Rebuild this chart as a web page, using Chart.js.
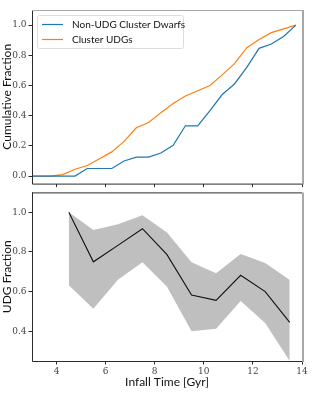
<!DOCTYPE html>
<html lang="en">
<head>
<meta charset="UTF-8">
<title>UDG infall time</title>
<script src="https://cdn.jsdelivr.net/npm/chart.js"></script>
<style>
  html, body { margin: 0; padding: 0; background: #fff; }
  #wrap { position: relative; width: 314px; height: 396px; }
  canvas { position: absolute; left: 0; }
  #topChart { top: 0; }
  #bottomChart { top: 185px; }
</style>
</head>
<body>
<div id="wrap">
  <canvas id="bottomChart" width="314" height="211"></canvas>
  <canvas id="topChart" width="314" height="191"></canvas>
</div>
<script>
// top panel: cumulative fractions
const cumTime = [2.75, 3.25, 3.75, 4.25, 4.75, 5.25, 5.75, 6.25, 6.75, 7.25, 7.75, 8.25,
                 8.75, 9.25, 9.75, 10.25, 10.75, 11.25, 11.75, 12.25, 12.75, 13.25, 13.75];
const nonUdgCum = [0, 0, 0, 0, 0, 0.05, 0.05, 0.05, 0.10, 0.125, 0.125, 0.153,
                   0.204, 0.333, 0.333, 0.434, 0.54, 0.61, 0.72, 0.846, 0.875, 0.925, 1.0];
const udgCum = [0, 0, 0, 0.01, 0.045, 0.07, 0.115, 0.16, 0.23, 0.32, 0.355, 0.42,
                0.48, 0.53, 0.565, 0.60, 0.67, 0.745, 0.85, 0.905, 0.95, 0.975, 1.0];

// bottom panel: UDG fraction per bin
const binTime = [4.5, 5.5, 6.5, 7.5, 8.5, 9.5, 10.5, 11.5, 12.5, 13.5];
const udgFrac = [1.0, 0.75, 0.833, 0.917, 0.786, 0.583, 0.556, 0.682, 0.60, 0.445];
const udgFracHigh = [1.0, 0.91, 0.94, 0.985, 0.898, 0.748, 0.692, 0.789, 0.744, 0.658];
const udgFracLow = [0.632, 0.513, 0.66, 0.748, 0.624, 0.40, 0.413, 0.552, 0.442, 0.25];

const xTicks = [4, 6, 8, 10, 12, 14];
const cumTicks = [0.0, 0.2, 0.4, 0.6, 0.8, 1.0];
const fracTicks = [0.4, 0.6, 0.8, 1.0];

const tickFont = { family: "'DejaVu Serif', 'Liberation Serif', serif", size: 9 };
const labelFont = { family: "Lato, 'Noto Sans', sans-serif", size: 12 };
const AXIS_W = 32;

function pts(xs, ys) {
  return xs.map((x, i) => ({ x: x, y: ys[i] }));
}

// spines like matplotlib: dark left/bottom, grey right (and grey top on upper panel)
const framePlugin = {
  id: 'frame',
  afterDatasetsDraw(chart, args, opts) {
    const { left, right, top, bottom } = chart.chartArea;
    const ctx = chart.ctx;
    ctx.save();
    ctx.lineWidth = 1;
    ctx.strokeStyle = '#2b2b2b';
    ctx.beginPath();
    ctx.moveTo(left + 0.5, top);
    ctx.lineTo(left + 0.5, bottom + 0.5);
    ctx.lineTo(right, bottom + 0.5);
    if (opts.darkTop) {
      ctx.moveTo(left, top + 0.5);
      ctx.lineTo(right, top + 0.5);
    }
    ctx.stroke();
    ctx.strokeStyle = '#a8a8a8';
    if (!opts.darkTop) {
      ctx.beginPath();
      ctx.moveTo(left, top + 0.5);
      ctx.lineTo(right, top + 0.5);
      ctx.stroke();
    }
    ctx.lineWidth = 2;
    ctx.beginPath();
    ctx.moveTo(right + 1, top);
    ctx.lineTo(right + 1, bottom + 1);
    ctx.stroke();
    ctx.restore();
  }
};

// framed legend in the upper left corner
const boxLegend = {
  id: 'boxLegend',
  afterDraw(chart) {
    const ctx = chart.ctx;
    const a = chart.chartArea;
    const x = a.left + 5, y = a.top + 5, w = 146, h = 33;
    ctx.save();
    ctx.fillStyle = 'rgba(255,255,255,0.85)';
    ctx.strokeStyle = '#dcdcdc';
    ctx.lineWidth = 1;
    ctx.beginPath();
    ctx.roundRect(x + 0.5, y + 0.5, w, h, 2);
    ctx.fill();
    ctx.stroke();
    ctx.font = "10px Lato, 'Noto Sans', sans-serif";
    ctx.textBaseline = 'middle';
    chart.data.datasets.forEach((ds, i) => {
      const cy = y + 9.5 + i * 15;
      ctx.strokeStyle = ds.borderColor;
      ctx.lineWidth = 1.2;
      ctx.beginPath();
      ctx.moveTo(x + 5, cy);
      ctx.lineTo(x + 26, cy);
      ctx.stroke();
      ctx.fillStyle = '#111';
      ctx.fillText(ds.label, x + 35, cy);
    });
    ctx.restore();
  }
};

function xScale(showLabels) {
  return {
    type: 'linear',
    min: 3,
    max: 14,
    afterBuildTicks: s => { s.ticks = xTicks.map(v => ({ value: v })); },
    afterFit: s => { s.height = showLabels ? 35 : 7; },
    grid: { drawOnChartArea: false, drawTicks: true, tickLength: 3.5, color: '#2b2b2b' },
    border: { display: false },
    ticks: {
      display: showLabels,
      font: tickFont,
      color: '#444',
      padding: 2,
      maxRotation: 0,
      callback: v => String(v)
    },
    title: {
      display: showLabels,
      text: 'Infall Time [Gyr]',
      font: labelFont,
      color: '#111',
      padding: { top: 0, bottom: 7 }
    }
  };
}

function yScale(min, max, ticks, label) {
  return {
    type: 'linear',
    min: min,
    max: max,
    afterBuildTicks: s => { s.ticks = ticks.map(v => ({ value: v })); },
    afterFit: s => { s.width = AXIS_W; },
    grid: { drawOnChartArea: false, drawTicks: true, tickLength: 3.5, color: '#2b2b2b' },
    border: { display: false },
    ticks: {
      font: tickFont,
      color: '#444',
      padding: 2,
      callback: v => v.toFixed(1)
    },
    title: {
      display: true,
      text: label,
      font: labelFont,
      color: '#111',
      padding: { top: 0, bottom: 0 }
    }
  };
}

new Chart(document.getElementById('topChart'), {
  type: 'line',
  data: {
    datasets: [
      {
        label: 'Non-UDG Cluster Dwarfs',
        data: pts(cumTime, nonUdgCum),
        borderColor: '#1f77b4',
        borderWidth: 1.2,
        pointRadius: 0,
        fill: false
      },
      {
        label: 'Cluster UDGs',
        data: pts(cumTime, udgCum),
        borderColor: '#ff7f0e',
        borderWidth: 1.2,
        pointRadius: 0,
        fill: false
      }
    ]
  },
  options: {
    responsive: false,
    animation: false,
    layout: { padding: { top: 10, right: 12, bottom: 0, left: 0 } },
    plugins: {
      legend: { display: false },
      tooltip: { enabled: false },
      frame: { darkTop: false }
    },
    scales: {
      x: xScale(false),
      y: yScale(-0.05, 1.1, cumTicks, 'Cumulative Fraction')
    }
  },
  plugins: [framePlugin, boxLegend]
});

new Chart(document.getElementById('bottomChart'), {
  type: 'line',
  data: {
    datasets: [
      {
        label: 'upper',
        data: pts(binTime, udgFracHigh),
        borderWidth: 0,
        pointRadius: 0,
        backgroundColor: '#bfbfbf',
        fill: '+1',
        order: 2
      },
      {
        label: 'lower',
        data: pts(binTime, udgFracLow),
        borderWidth: 0,
        pointRadius: 0,
        fill: false,
        order: 2
      },
      {
        label: 'UDG Fraction',
        data: pts(binTime, udgFrac),
        borderColor: '#111',
        borderWidth: 1.1,
        pointRadius: 0,
        fill: false,
        order: 0
      }
    ]
  },
  options: {
    responsive: false,
    animation: false,
    layout: { padding: { top: 0, right: 12, bottom: 0, left: 0 } },
    plugins: {
      legend: { display: false },
      tooltip: { enabled: false },
      frame: { darkTop: true }
    },
    scales: {
      x: xScale(true),
      y: yScale(0.25, 1.1, fracTicks, 'UDG Fraction')
    }
  },
  plugins: [framePlugin]
});
</script>
</body>
</html>
